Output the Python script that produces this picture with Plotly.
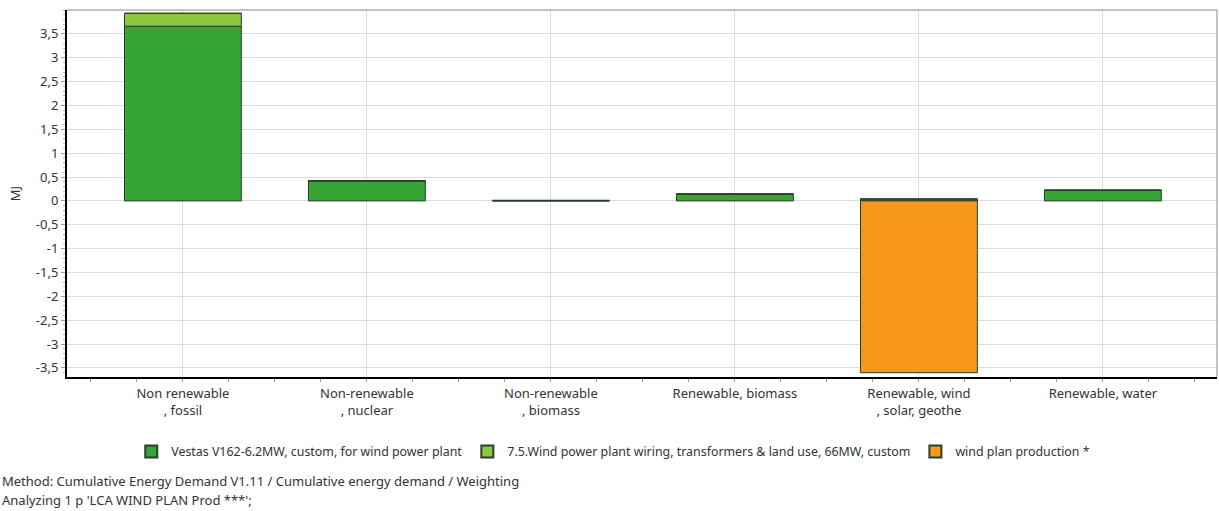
import plotly.graph_objects as go

# Categories of cumulative energy demand
categories = [
    "Non renewable<br>, fossil",
    "Non-renewable<br>, nuclear",
    "Non-renewable<br>, biomass",
    "Renewable, biomass",
    "Renewable, wind<br>, solar, geothe",
    "Renewable, water",
]

# Contributions per process (MJ)
vestas = [3.66, 0.42, 0.0, 0.14, 0.035, 0.22]
wiring = [0.27, 0.0, 0.01, 0.005, 0.01, 0.005]
production = [0.0, 0.0, 0.0, 0.0, -3.6, 0.0]

series_names = [
    "Vestas V162-6.2MW, custom, for wind power plant",
    "7.5.Wind power plant wiring, transformers & land use, 66MW, custom",
    "wind plan production *",
]
series_colors = ["#37A535", "#8DC63F", "#F7981D"]

y_ticks = [-3.5, -3, -2.5, -2, -1.5, -1, -0.5, 0, 0.5, 1, 1.5, 2, 2.5, 3, 3.5]
y_tick_text = [("%g" % v).replace(".", ",") for v in y_ticks]

FONT = "Noto Sans"
TEXT = "#333333"
FS = 13

x_pos = list(range(len(categories)))

fig = go.Figure()
for name, vals, col in zip(series_names, [vestas, wiring, production], series_colors):
    fig.add_trace(go.Bar(
        x=x_pos, y=vals, name=name, width=0.635,
        marker=dict(color=col, line=dict(color="#2a3f2a", width=1)),
    ))

fig.update_layout(
    width=1219, height=511,
    margin=dict(l=67, r=2, t=10, b=134),
    barmode="relative",
    plot_bgcolor="white", paper_bgcolor="white",
    font=dict(family=FONT, size=FS, color=TEXT),
    showlegend=True,
    legend=dict(
        orientation="h", x=0.475, xanchor="center", y=-0.204, yanchor="middle",
        font=dict(family=FONT, size=12.4, color=TEXT),
        itemsizing="constant", traceorder="normal",
    ),
    xaxis=dict(
        range=[-0.63, 5.62], tickvals=x_pos, ticktext=categories,
        showgrid=True, gridcolor="#dcdcdc", gridwidth=1,
        showline=True, linecolor="black", linewidth=2,
        ticks="", zeroline=False, ticklabelstandoff=3,
        minor=dict(dtick=0.25, tick0=0, ticks="outside", ticklen=3, tickcolor="#999999", showgrid=False),
        tickfont=dict(family=FONT, size=FS, color=TEXT),
    ),
    yaxis=dict(
        range=[-3.69, 4.0], tickvals=y_ticks, ticktext=y_tick_text,
        showgrid=True, gridcolor="#dcdcdc", gridwidth=1,
        showline=True, linecolor="black", linewidth=2,
        ticks="outside", ticklen=4, tickcolor="#999999",
        zeroline=False,
        minor=dict(dtick=0.1, ticks="outside", ticklen=2, tickcolor="#bbbbbb", showgrid=False),
        title=dict(text="MJ", font=dict(family=FONT, size=FS, color=TEXT), standoff=12),
        tickfont=dict(family=FONT, size=FS, color=TEXT),
    ),
)

# Thin grey frame on the top and right sides of the plot area
fig.add_shape(type="line", xref="paper", yref="paper", x0=0, x1=1, y0=1, y1=1,
              line=dict(color="#888888", width=1))
fig.add_shape(type="line", xref="paper", yref="paper", x0=1, x1=1, y0=0, y1=1,
              line=dict(color="#888888", width=1))

# Method footnote
fig.add_annotation(text="Method: Cumulative Energy Demand V1.11 / Cumulative energy demand / Weighting",
                   xref="paper", yref="paper", x=-0.0583, y=-0.283, xanchor="left", yanchor="middle",
                   showarrow=False, font=dict(family=FONT, size=FS, color=TEXT))
fig.add_annotation(text="Analyzing 1 p 'LCA WIND PLAN Prod ***';",
                   xref="paper", yref="paper", x=-0.0583, y=-0.335, xanchor="left", yanchor="middle",
                   showarrow=False, font=dict(family=FONT, size=FS, color=TEXT))

fig.write_html("out.html")
